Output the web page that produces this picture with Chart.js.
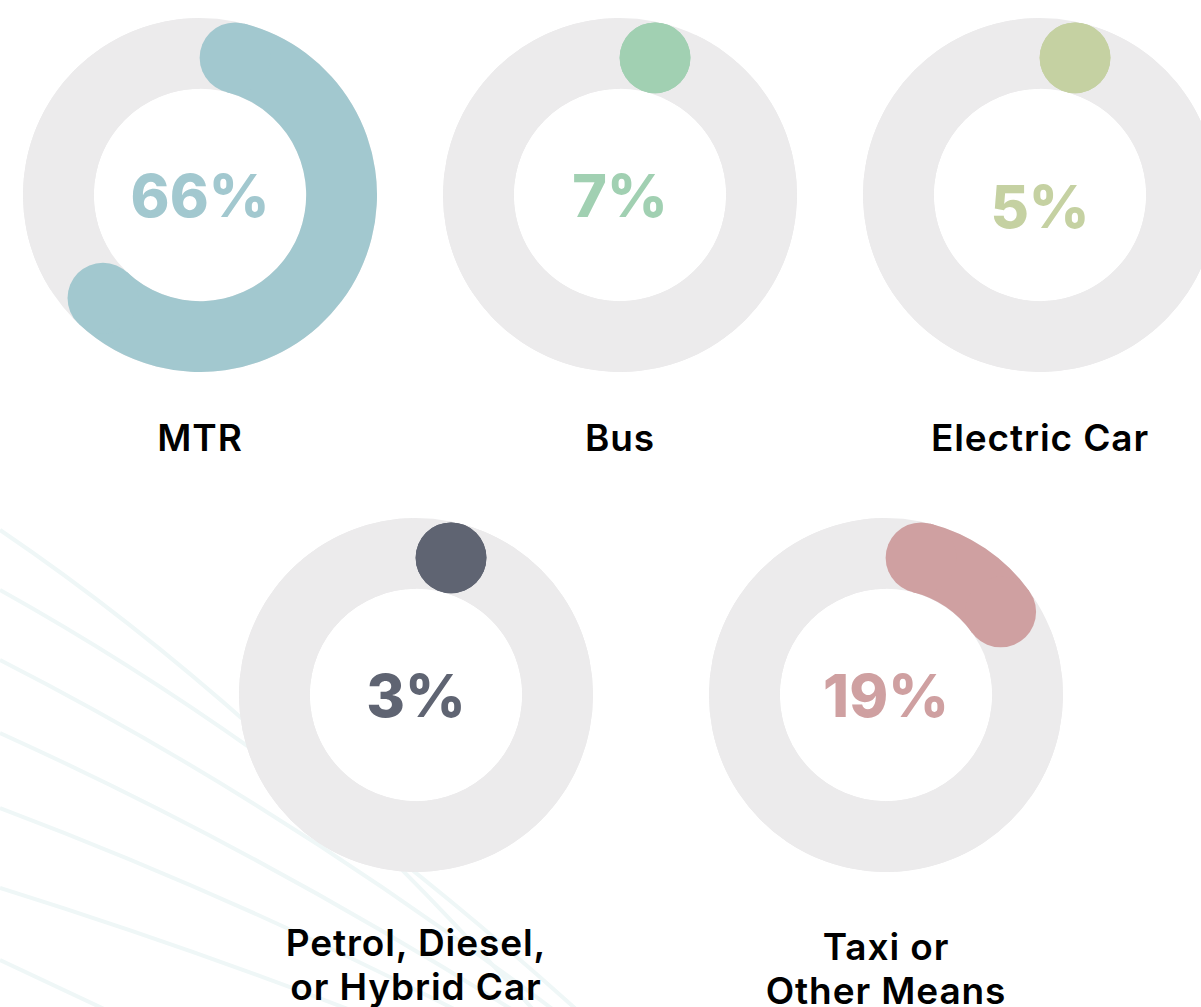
<!DOCTYPE html>
<html lang="en">
<head>
<meta charset="UTF-8">
<title>How people travel</title>
<style>
    html, body { margin: 0; padding: 0; overflow: hidden; }
    body {
        width: 1201px;
        height: 1007px;
        position: relative;
        background: #ffffff;
        font-family: Inter, "Noto Sans", sans-serif;
    }
    #bg { position: absolute; left: 0; top: 0; }
    .ring { position: absolute; width: 354px; height: 354px; }
    .label {
        position: absolute;
        width: 400px;
        text-align: center;
        font-size: 37px;
        font-weight: 600;
        letter-spacing: 0.9px;
        line-height: 44px;
        color: #000000;
        white-space: pre-line;
    }
</style>
</head>
<body>
<!-- faint fan of lines in the background -->
<svg id="bg" width="1201" height="1007">
    <g fill="none" stroke="#eff7f7" stroke-width="4">
        <path d="M0 530 Q280 720 560 1040"/>
        <path d="M0 590 Q305 760 610 1040"/>
        <path d="M0 660 Q296 811 593 1040"/>
        <path d="M0 733 Q280 860 560 1040"/>
        <path d="M0 808 Q257 905 514 1040"/>
        <path d="M0 888 Q214 955 427 1040"/>
        <path d="M0 960 Q85 1000 170 1040"/>
    </g>
</svg>

<script src="https://cdn.jsdelivr.net/npm/chart.js"></script>
<script>
    const modes = ['MTR', 'Bus', 'Electric Car', 'Petrol, Diesel,\nor Hybrid Car', 'Taxi or\nOther Means'];
    const shares = [66, 7, 5, 3, 19];
    const colors = ['#a2c8cf', '#a1d0b2', '#c5d1a2', '#5f6472', '#cfa0a1'];
    const trackColor = '#ecebec';

    // where each ring sits on the page (centre of ring, label top)
    const spots = [
        { cx: 200, cy: 195, shift: 0, labelTop: 416 },
        { cx: 620, cy: 195, shift: 0, labelTop: 416 },
        { cx: 1040, cy: 195, shift: 11, labelTop: 416 },
        { cx: 416, cy: 695, shift: 0, labelTop: 921 },
        { cx: 886, cy: 695, shift: 0, labelTop: 925 }
    ];

    function ringPlugin(i) {
        return {
            id: 'ring' + i,
            beforeDatasetsDraw(chart) {
                // full grey track under the coloured part
                const arc = chart.getDatasetMeta(0).data[0];
                const p = arc.getProps(['x', 'y', 'innerRadius', 'outerRadius'], true);
                const ctx = chart.ctx;
                ctx.save();
                ctx.beginPath();
                ctx.arc(p.x, p.y, p.outerRadius, 0, Math.PI * 2);
                ctx.arc(p.x, p.y, p.innerRadius, 0, Math.PI * 2, true);
                ctx.fillStyle = trackColor;
                ctx.fill();
                ctx.restore();
            },
            afterDatasetsDraw(chart) {
                const arc = chart.getDatasetMeta(0).data[0];
                const p = arc.getProps(['x', 'y', 'startAngle', 'endAngle', 'innerRadius', 'outerRadius'], true);
                const ctx = chart.ctx;
                const mid = (p.innerRadius + p.outerRadius) / 2;
                const half = (p.outerRadius - p.innerRadius) / 2;
                const cap = half / mid;
                const a0 = p.startAngle + cap;
                const a1 = Math.max(a0, p.endAngle - cap);

                ctx.save();
                ctx.fillStyle = colors[i];
                if (a1 > a0) {
                    ctx.beginPath();
                    ctx.arc(p.x, p.y, p.outerRadius, a0, a1);
                    ctx.arc(p.x, p.y, p.innerRadius, a1, a0, true);
                    ctx.closePath();
                    ctx.fill();
                }
                // rounded ends
                [a0, a1].forEach(a => {
                    ctx.beginPath();
                    ctx.arc(p.x + mid * Math.cos(a), p.y + mid * Math.sin(a), half, 0, Math.PI * 2);
                    ctx.fill();
                });

                // percentage in the middle
                ctx.font = '800 59px Inter, "Noto Sans", sans-serif';
                ctx.textAlign = 'center';
                ctx.textBaseline = 'alphabetic';
                ctx.fillText(shares[i] + '%', p.x, p.y + 22 + spots[i].shift);
                ctx.restore();
            }
        };
    }

    modes.forEach((mode, i) => {
        const s = spots[i];
        const box = document.createElement('div');
        box.className = 'ring';
        box.style.left = (s.cx - 177) + 'px';
        box.style.top = (s.cy - 177) + 'px';
        const canvas = document.createElement('canvas');
        box.appendChild(canvas);
        document.body.appendChild(box);

        const label = document.createElement('div');
        label.className = 'label';
        label.style.left = (s.cx - 200) + 'px';
        label.style.top = s.labelTop + 'px';
        label.textContent = mode;
        document.body.appendChild(label);

        new Chart(canvas, {
            type: 'doughnut',
            data: {
                labels: [mode, 'Other'],
                datasets: [{
                    data: [shares[i], 100 - shares[i]],
                    backgroundColor: ['rgba(0,0,0,0)', trackColor],
                    borderWidth: 0
                }]
            },
            options: {
                responsive: true,
                maintainAspectRatio: false,
                cutout: '60%',
                animation: false,
                events: [],
                layout: { padding: 0 },
                plugins: {
                    legend: { display: false },
                    tooltip: { enabled: false }
                }
            },
            plugins: [ringPlugin(i)]
        });
    });
</script>
</body>
</html>
